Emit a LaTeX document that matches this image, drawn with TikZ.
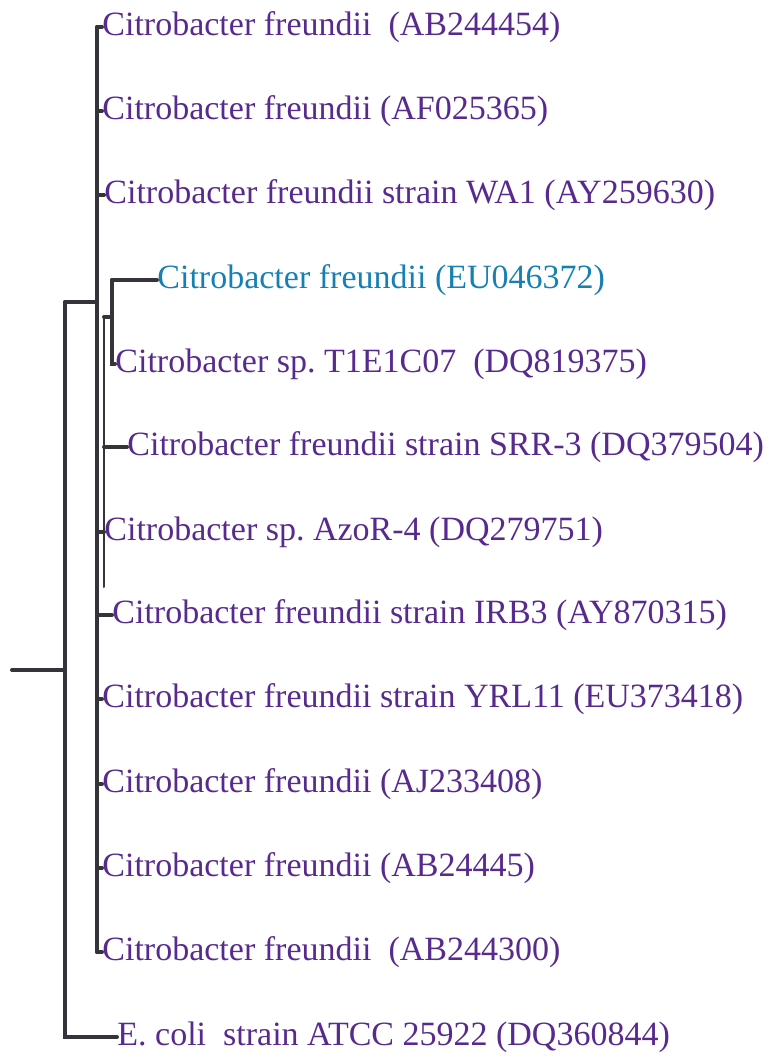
\documentclass[tikz,border=0pt]{standalone}
\usepackage{fontspec}
\setmainfont{Liberation Serif}
\usepackage{xcolor}
\usepackage{tikz}
\usetikzlibrary{calc,positioning}
\frenchspacing

\definecolor{ramo}{RGB}{52,52,58}
\definecolor{roxo}{RGB}{88,42,142}
\definecolor{azul}{RGB}{22,128,178}

\begin{document}
\begin{tikzpicture}[
    x=0.5pt, y=-0.5pt,
    ramo/.style={line width=2pt, draw=ramo, line cap=round},
    folha/.style={anchor=west, inner sep=0pt, text=roxo,
                  font=\fontsize{17}{20}\selectfont}
]
\useasboundingbox (0,0) rectangle (771,1053);

%------------------------------------------------
% Folhas
%------------------------------------------------
\foreach \y/\x/\nome/\txt in {
27/102/abA/{Citrobacter freundii\ \ (AB244454)},
111/102/afA/{Citrobacter freundii (AF025365)},
195/104/wa/{Citrobacter freundii strain WA1 (AY259630)},
364/115/tle/{Citrobacter sp. T1E1C07\ \ (DQ819375)},
447/127/srr/{Citrobacter freundii strain SRR-3 (DQ379504)},
532/104/azo/{Citrobacter sp. AzoR-4 (DQ279751)},
615/112/irb/{Citrobacter freundii strain IRB3 (AY870315)},
699/102/yrl/{Citrobacter freundii strain YRL11 (EU373418)},
784/102/ajA/{Citrobacter freundii (AJ233408)},
868/102/abB/{Citrobacter freundii (AB24445)},
952/102/abC/{Citrobacter freundii\ \ (AB244300)},
1037/117/ecoli/{E. coli\ \ strain ATCC 25922 (DQ360844)}}
{
    \node[folha] (\nome) at (\x,\y) {\txt};
}
\node[folha, text=azul] (eu) at (157,280) {Citrobacter freundii (EU046372)};

%------------------------------------------------
% Ramos
%------------------------------------------------
\coordinate (raiz) at (12,670);
\coordinate (no0) at (65,670);
\coordinate (topo) at (97,27);
\coordinate (base) at (97,952);
\coordinate (no1) at (97,302);
\coordinate (no2) at (104,317);
\coordinate (no3) at (112,317);

% raiz
\draw[ramo] (raiz) -- (no0);
\draw[ramo] (no0 |- no1) -- (no0 |- ecoli.west) -- (ecoli.west);
\draw[ramo] (no0 |- no1) -- (no1);

% espinha principal
\draw[ramo] (topo) -- (base);
\foreach \nome in {abA,afA,wa,azo,irb,yrl,ajA,abB,abC}
    \draw[ramo] (topo |- \nome.west) -- (\nome.west);

% subgrupo
\draw[ramo, line width=1pt] (no2) -- (104,587);
\draw[ramo] (no2) -- (no3);
\draw[ramo] (no3 |- eu.west) -- (no3 |- tle.west) -- (tle.west);
\draw[ramo] (no3 |- eu.west) -- (eu.west);
\draw[ramo] (no2 |- srr.west) -- (srr.west);

\end{tikzpicture}
\end{document}
